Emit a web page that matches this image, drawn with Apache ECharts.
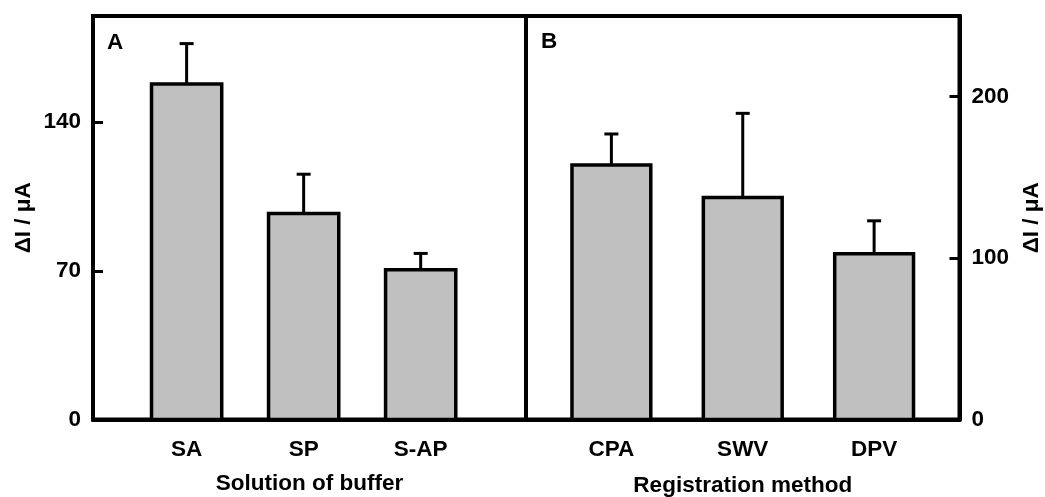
<!DOCTYPE html>
<html>
<head>
<meta charset="utf-8">
<script src="https://cdn.jsdelivr.net/npm/echarts@6/dist/echarts.min.js"></script>
<style>html,body{margin:0;padding:0;background:#fff;}#c{width:1045px;height:497px;}</style>
</head>
<body>
<div id="c"></div>
<script>
// Panel A data
const catsA = ['SA', 'SP', 'S-AP'];
const valsA = [158, 97, 70.5];
const errA = [19, 18.5, 7.7];
const ticksA = [0, 70, 140];
// Panel B data
const catsB = ['CPA', 'SWV', 'DPV'];
const valsB = [157.7, 137.5, 102.7];
const errB = [19.2, 52.2, 20.4];
const ticksB = [0, 100, 200];

const FONT = 'Liberation Sans, Arial, sans-serif';
const txt = {fontFamily: FONT, fontWeight: 'bold', fontSize: 22.5, color: '#000'};

function rows(vals, errs) {
  return vals.map((v, i) => [i + 1, v, errs[i]]);
}

function barItem(params, api) {
  const x = api.value(0), v = api.value(1);
  const p0 = api.coord([x - 0.3, v]);
  const p1 = api.coord([x + 0.3, 0]);
  return {
    type: 'rect',
    shape: {x: p0[0], y: p0[1], width: p1[0] - p0[0], height: p1[1] - p0[1]},
    style: {fill: '#c0c0c0', stroke: '#000', lineWidth: 3.5}
  };
}
function errItem(params, api) {
  const x = api.value(0), v = api.value(1), e = api.value(2);
  const a = api.coord([x, v]);
  const b = api.coord([x, v + e]);
  return {
    type: 'group',
    children: [
      {type: 'line', shape: {x1: a[0], y1: a[1], x2: b[0], y2: b[1]}, style: {stroke: '#000', lineWidth: 3}},
      {type: 'line', shape: {x1: b[0] - 7, y1: b[1], x2: b[0] + 7, y2: b[1]}, style: {stroke: '#000', lineWidth: 3}}
    ]
  };
}

function xAxisFor(gridIndex, cats, min, max, name, gap) {
  return {
    type: 'value', gridIndex, min, max,
    name, nameLocation: 'middle', nameGap: gap, nameTextStyle: txt,
    axisLine: {show: true, lineStyle: {color: '#000', width: 4}},
    axisTick: {show: false},
    splitLine: {show: false},
    axisLabel: Object.assign({}, txt, {
      margin: 19,
      customValues: cats.map((c, i) => i + 1),
      formatter: v => cats[Math.round(v) - 1]
    })
  };
}
function yAxisFor(gridIndex, ticks, max, position, rotate, gap) {
  return {
    type: 'value', gridIndex, min: 0, max, position,
    name: 'ΔI / μA', nameLocation: 'middle', nameGap: gap, nameRotate: rotate, nameTextStyle: txt,
    axisLine: {show: true, lineStyle: {color: '#000', width: 4}},
    axisTick: {show: true, inside: true, length: 10, lineStyle: {color: '#000', width: 3}, customValues: ticks},
    splitLine: {show: false},
    axisLabel: Object.assign({}, txt, {margin: 12, customValues: ticks})
  };
}

const chart = echarts.init(document.getElementById('c'), null, {renderer: 'canvas'});
chart.setOption({
  animation: false,
  backgroundColor: '#fff',
  grid: [
    {left: 93, right: 519, top: 16, bottom: 77.5, show: true, borderColor: '#000', borderWidth: 4, containLabel: false, outerBoundsMode: 'none'},
    {left: 526, right: 85.5, top: 16, bottom: 77.5, show: true, borderColor: '#000', borderWidth: 4, containLabel: false, outerBoundsMode: 'none'}
  ],
  xAxis: [
    xAxisFor(0, catsA, 0.2, 3.9, 'Solution of buffer', 53),
    xAxisFor(1, catsB, 0.35, 3.65, 'Registration method', 55)
  ],
  yAxis: [
    yAxisFor(0, ticksA, 190, 'left', 90, 58),
    yAxisFor(1, ticksB, 250, 'right', 90, 61)
  ],
  graphic: [
    {type: 'text', left: 107, top: 31, style: {text: 'A', font: 'bold 22.5px ' + FONT, fill: '#000'}},
    {type: 'text', left: 541, top: 30, style: {text: 'B', font: 'bold 22.5px ' + FONT, fill: '#000'}}
  ],
  series: [
    {type: 'custom', xAxisIndex: 0, yAxisIndex: 0, renderItem: barItem, data: rows(valsA, errA), z: 2},
    {type: 'custom', xAxisIndex: 0, yAxisIndex: 0, renderItem: errItem, data: rows(valsA, errA), z: 3},
    {type: 'custom', xAxisIndex: 1, yAxisIndex: 1, renderItem: barItem, data: rows(valsB, errB), z: 2},
    {type: 'custom', xAxisIndex: 1, yAxisIndex: 1, renderItem: errItem, data: rows(valsB, errB), z: 3}
  ]
});
</script>
</body>
</html>
